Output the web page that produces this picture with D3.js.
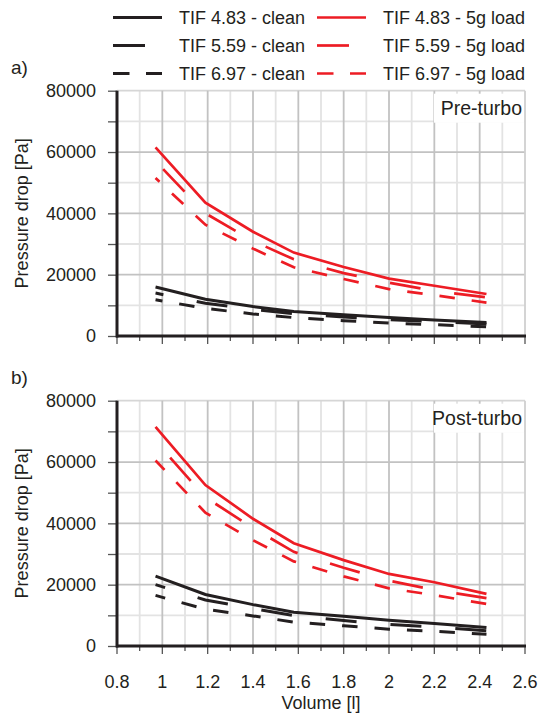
<!DOCTYPE html>
<html>
<head>
<meta charset="utf-8">
<script src="https://cdn.jsdelivr.net/npm/d3@7"></script>
<style>
  body { margin: 0; background: #fff; }
  svg { display: block; font-family: Arial, "Liberation Sans", sans-serif; }
</style>
</head>
<body>
<svg id="chart" width="541" height="715"></svg>
<script>
// volumes shared by every series
const volume = [0.97, 1.19, 1.4, 1.58, 1.8, 2.0, 2.2, 2.43];

// a) pre-turbo
const preClean483 = [16000, 12000, 9600, 8000, 6900, 6000, 5200, 4400];
const preClean559 = [14000, 10700, 8700, 7300, 6200, 5300, 4700, 3900];
const preClean697 = [11800, 9000, 7200, 6000, 5000, 4200, 3700, 3000];
const preLoad483 = [61500, 43500, 34000, 27200, 22500, 18700, 16400, 13700];
const preLoad559 = [57000, 40000, 31000, 25000, 20500, 17400, 14700, 12600];
const preLoad697 = [51500, 36300, 28500, 22400, 18600, 15300, 13300, 10900];

// b) post-turbo
const postClean483 = [22800, 16800, 13500, 11000, 9700, 8400, 7300, 6000];
const postClean559 = [20000, 15000, 12200, 9900, 8300, 7000, 6200, 5000];
const postClean697 = [16500, 12000, 9800, 7800, 6600, 5500, 4800, 3800];
const postLoad483 = [71500, 52500, 41500, 33500, 28000, 23500, 20800, 17000];
const postLoad559 = [66800, 48500, 38500, 30700, 25500, 21300, 18300, 15600];
const postLoad697 = [60500, 43500, 34500, 27600, 22700, 18800, 16600, 13700];

const seriesLabels = ["TIF 4.83 - clean", "TIF 5.59 - clean", "TIF 6.97 - clean",
                      "TIF 4.83 - 5g load", "TIF 5.59 - 5g load", "TIF 6.97 - 5g load"];
const xTicks = [0.8, 1, 1.2, 1.4, 1.6, 1.8, 2, 2.2, 2.4, 2.6];

const RED = "#ed1c24", BLACK = "#231f20", TEXT = "#231f20";
const dashes = ["none", "31,34", "15.5,17"];

const svg = d3.select("#chart");
const x = d3.scaleLinear().domain([0.8, 2.6]).range([117, 525]);

const panels = [
  {tag: "a)", name: "Pre-turbo", y0: 336, y1: 90.7,
   series: [preClean483, preClean559, preClean697, preLoad483, preLoad559, preLoad697],
   offsets: [0, 23, 8.5, 0, 54, 10], xLabels: false},
  {tag: "b)", name: "Post-turbo", y0: 646, y1: 400.7,
   series: [postClean483, postClean559, postClean697, postLoad483, postLoad559, postLoad697],
   offsets: [0, 21, 5.5, 0, 43, 2.5], xLabels: true}
];

panels.forEach(p => {
  const y = d3.scaleLinear().domain([0, 80000]).range([p.y0, p.y1]);
  const g = svg.append("g");

  // gridlines: minor first, then major
  const minorX = d3.range(0.9, 2.6, 0.2);
  const majorX = d3.range(1.0, 2.61, 0.2);
  g.selectAll(".gxm").data(minorX).enter().append("line")
    .attr("x1", d => x(d)).attr("x2", d => x(d))
    .attr("y1", y(0)).attr("y2", y(80000))
    .attr("stroke", "#e3e3e3").attr("stroke-width", 1.8);
  g.selectAll(".gym").data(d3.range(10000, 80001, 20000)).enter().append("line")
    .attr("x1", x(0.8)).attr("x2", x(2.6))
    .attr("y1", d => y(d)).attr("y2", d => y(d))
    .attr("stroke", "#e3e3e3").attr("stroke-width", 1.8);
  g.selectAll(".gyM").data([20000, 40000, 60000, 80000]).enter().append("line")
    .attr("x1", x(0.8)).attr("x2", x(2.6))
    .attr("y1", d => y(d)).attr("y2", d => y(d))
    .attr("stroke", d => d === 80000 ? "#d6d6d6" : "#c2c2c2").attr("stroke-width", 1.8);
  g.selectAll(".gxM").data(majorX).enter().append("line")
    .attr("x1", d => x(d)).attr("x2", d => x(d))
    .attr("y1", y(0)).attr("y2", y(80000))
    .attr("stroke", d => Math.abs(d - 2.6) < 1e-6 ? "#d0d0d0" : "#c2c2c2").attr("stroke-width", 1.8);

  // panel name box
  const box = g.append("g");
  box.append("rect").attr("x", 434).attr("y", y(80000) + 3).attr("width", 90).attr("height", 29)
    .attr("fill", "#fff");
  box.append("text").attr("x", 522).attr("y", y(80000) + 24)
    .attr("text-anchor", "end").attr("font-size", 19.5).attr("fill", TEXT).text(p.name);

  // lines
  const line = d3.line().x((d, i) => x(volume[i])).y(d => y(d));
  p.series.forEach((s, k) => {
    g.append("path").datum(s)
      .attr("d", line)
      .attr("fill", "none")
      .attr("stroke", k < 3 ? BLACK : RED)
      .attr("stroke-width", k < 3 ? 3 : 2.7)
      .attr("stroke-dasharray", dashes[k % 3])
      .attr("stroke-dashoffset", p.offsets[k]);
  });

  // y axis
  const yAxis = g.append("g").attr("transform", `translate(${x(0.8)},0)`)
    .call(d3.axisLeft(y).tickValues(d3.range(0, 80001, 10000)).tickSize(9).tickFormat(d => d % 20000 === 0 ? d : ""));
  yAxis.select(".domain").remove();
  yAxis.selectAll(".tick line").attr("stroke", "#555").attr("stroke-width", 1.3);
  yAxis.selectAll(".tick text").attr("font-size", 18).attr("fill", TEXT)
    .attr("font-family", "Arial, 'Liberation Sans', sans-serif").attr("x", -21);

  // x axis ticks
  const ticksG = g.append("g");
  ticksG.selectAll("line").data(d3.range(0, 19)).enter().append("line")
    .attr("x1", i => x(0.8 + i * 0.1)).attr("x2", i => x(0.8 + i * 0.1))
    .attr("y1", y(0)).attr("y2", i => y(0) + (i % 2 === 0 ? 8 : 5))
    .attr("stroke", "#555").attr("stroke-width", 1.3);

  // thick axis lines
  g.append("line").attr("x1", x(0.8) - 1).attr("x2", x(2.6) + 1).attr("y1", y(0)).attr("y2", y(0))
    .attr("stroke", BLACK).attr("stroke-width", 3);
  g.append("line").attr("x1", x(0.8)).attr("x2", x(0.8)).attr("y1", y(0) + 1.5).attr("y2", y(80000))
    .attr("stroke", BLACK).attr("stroke-width", 3);

  if (p.xLabels) {
    g.selectAll(".xl").data(xTicks).enter().append("text")
      .attr("x", d => x(d)).attr("y", y(0) + 42)
      .attr("text-anchor", "middle").attr("font-size", 18).attr("fill", TEXT)
      .text(d => d);
  }

  // y label
  g.append("text")
    .attr("transform", `translate(28,${(p.y0 + p.y1) / 2}) rotate(-90)`)
    .attr("text-anchor", "middle").attr("font-size", 18).attr("fill", TEXT)
    .text("Pressure drop [Pa]");

  // panel tag
  g.append("text").attr("x", 11).attr("y", p.y1 - 17)
    .attr("font-size", 19).attr("fill", TEXT).text(p.tag);
});

// x label
svg.append("text").attr("x", x(1.7)).attr("y", 709)
  .attr("text-anchor", "middle").attr("font-size", 18).attr("fill", TEXT).text("Volume [l]");

// legend
const legendRows = [17.5, 45.5, 73.5];
seriesLabels.forEach((lab, k) => {
  const col = k < 3 ? 0 : 1;
  const row = legendRows[k % 3];
  const lx = col === 0 ? 113 : 317;
  svg.append("line").attr("x1", lx).attr("x2", lx + 49).attr("y1", row).attr("y2", row)
    .attr("stroke", col === 0 ? BLACK : RED).attr("stroke-width", col === 0 ? 3 : 2.7)
    .attr("stroke-dasharray", k % 3 === 0 ? "none" : (k % 3 === 1 ? "32,40" : "16.5,16.5"));
  svg.append("text").attr("x", lx + 66).attr("y", row + 6.5)
    .attr("font-size", 18).attr("fill", TEXT).text(lab);
});
</script>
</body>
</html>
